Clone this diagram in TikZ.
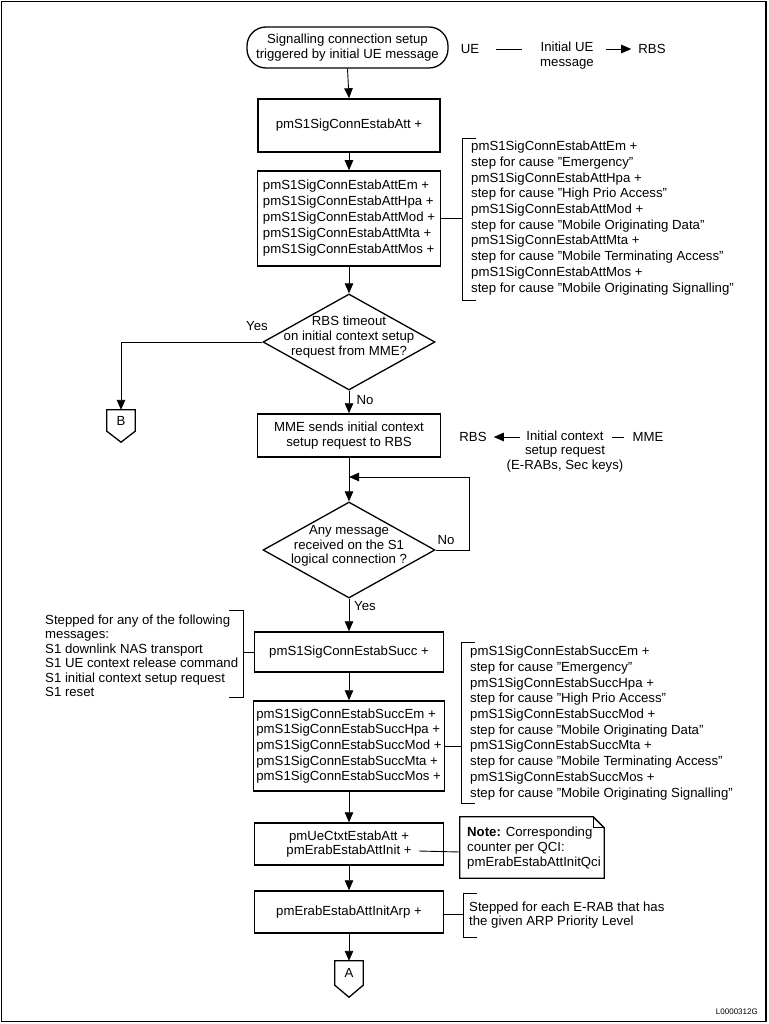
\documentclass[tikz,border=0pt]{standalone}
\usepackage{fontspec}
\setmainfont{Liberation Sans}
\usetikzlibrary{arrows.meta,shapes.geometric,calc}
\begin{document}
\begin{tikzpicture}[x=1pt,y=-1pt, font=\fontsize{13.2}{15.7}\selectfont,
  box/.style={draw, line width=1.5pt, inner sep=0pt, align=center},
  dia/.style={draw, diamond, line width=1.3pt, inner sep=0pt, minimum width=172pt, minimum height=96pt},
  con/.style={line width=0.9pt},
  arr/.style={con, -{Triangle[length=10pt,width=8.5pt]}},
  txt/.style={inner sep=0pt, align=left},
  ctxt/.style={inner sep=0pt, align=center, font=\fontsize{13.2}{14.4}\selectfont},
  offpage/.style={inner sep=0pt, minimum width=28pt},
]
\useasboundingbox (0,0) rectangle (768,1024);
\draw[line width=1.3pt] (1.5,1.5) rectangle (766,1021.5);

% start terminal
\node[box, line width=1.3pt, rounded corners=19pt, minimum width=201pt, minimum height=41pt, font=\fontsize{13.2}{14.2}\selectfont] (start) at (347.5,47.5) {Signalling connection setup\\triggered by initial UE message};

% UE -> RBS message
\node[ctxt] (ue) at (470,49) {UE};
\node[ctxt] (ini) at (567,55.5) {Initial UE\\message};
\node[ctxt] (rbs1) at (652,49) {RBS};
\draw[con] ([xshift=17pt]ue.east) -- ([xshift=-18pt]ini.west |- ue.east);
\draw[arr] ([xshift=12pt]ini.east |- rbs1.west) -- ([xshift=-7pt]rbs1.west);

% box 1
\node[box, minimum width=182pt, minimum height=53pt] (b1) at (349,125.5) {pmS1SigConnEstabAtt +};
% box 2
\node[box, minimum width=183pt, minimum height=95pt, align=left, font=\fontsize{13.2}{16}\selectfont] (b2) at (349,218.5) {pmS1SigConnEstabAttEm +\\pmS1SigConnEstabAttHpa +\\pmS1SigConnEstabAttMod +\\pmS1SigConnEstabAttMta +\\pmS1SigConnEstabAttMos +};
% bracket 1
\node[txt, anchor=west] (br1t) at (471,218) {pmS1SigConnEstabAttEm +\\step for cause ”Emergency”\\pmS1SigConnEstabAttHpa +\\step for cause ”High Prio Access”\\pmS1SigConnEstabAttMod +\\step for cause ”Mobile Originating Data”\\pmS1SigConnEstabAttMta +\\step for cause ”Mobile Terminating Access”\\pmS1SigConnEstabAttMos +\\step for cause ”Mobile Originating Signalling”};
\coordinate (br1) at (462,218);
\draw[con] (476,138) -- (462,138) -- (462,300) -- (476,300);
\draw[con] (b2.east |- br1) -- (br1);

% decision 1
\node[dia] (d1) at (349,342) {};
\node[ctxt, font=\fontsize{13.2}{15}\selectfont] (d1t) at (349,337) {RBS timeout\\on initial context setup\\request from MME?};
\node[ctxt] (yes1) at (257,326) {Yes};
\node[ctxt] (no1) at (365,400) {No};

% off-page B
\node[offpage, minimum height=21pt] (B) at (121,420.5) {B};
\draw[line width=1.3pt] (B.north west) -- (B.north east) -- (B.south east) -- ($(B.south)+(0,11)$) -- (B.south west) -- cycle;
\draw[arr] (d1.west) -| (B.north);

% box 3
\node[box, minimum width=183pt, minimum height=43pt, font=\fontsize{13.2}{15}\selectfont] (b3) at (349,435.5) {MME sends initial context\\setup request to RBS};
\node[ctxt] (rbs2) at (473,437) {RBS};
\node[ctxt] (icr) at (565,451.5) {Initial context\\setup request\\(E-RABs, Sec keys)};
\node[ctxt] (mme) at (648,437) {MME};
\draw[arr] ([xshift=33pt]rbs2.east) -- ([xshift=7pt]rbs2.east);
\draw[con] ([xshift=-20pt]mme.west) -- ([xshift=-8pt]mme.west);

% decision 2
\node[dia] (d2) at (349,550) {};
\node[ctxt] (d2t) at (349,546) {Any message\\received on the S1\\logical connection ?};
\node[ctxt] (no2) at (446,540) {No};
\node[ctxt] (yes2) at (365,606) {Yes};
\coordinate (loop) at (469,477);
\draw[arr] (d2.east) -| (loop) -- (loop -| b3.south);

% box 4
\node[box, minimum width=189pt, minimum height=40pt] (b4) at (349,652) {pmS1SigConnEstabSucc +};
\node[txt, anchor=west, font=\fontsize{13.2}{14.5}\selectfont] (lt) at (45,656) {Stepped for any of the following\\messages:\\S1 downlink NAS transport\\S1 UE context release command\\S1 initial context setup request\\S1 reset};
\coordinate (brl) at (243,652);
\draw[con] (229,610) -- (243,610) -- (243,697) -- (229,697);
\draw[con] (brl) -- (b4.west);

% box 5
\node[box, minimum width=191pt, minimum height=90pt, align=left] (b5) at (349,746) {pmS1SigConnEstabSuccEm +\\pmS1SigConnEstabSuccHpa +\\pmS1SigConnEstabSuccMod +\\pmS1SigConnEstabSuccMta +\\pmS1SigConnEstabSuccMos +};
\node[txt, anchor=west] (br2t) at (470,723) {pmS1SigConnEstabSuccEm +\\step for cause ”Emergency”\\pmS1SigConnEstabSuccHpa +\\step for cause ”High Prio Access”\\pmS1SigConnEstabSuccMod +\\step for cause ”Mobile Originating Data”\\pmS1SigConnEstabSuccMta +\\step for cause ”Mobile Terminating Access”\\pmS1SigConnEstabSuccMos +\\step for cause ”Mobile Originating Signalling”};
\coordinate (br2) at (461,746);
\draw[con] (475,642) -- (461,642) -- (461,803) -- (475,803);
\draw[con] (b5.east) -- (br2);

% box 6 and note
\node[box, minimum width=189pt, minimum height=42pt, font=\fontsize{13.2}{14.4}\selectfont] (b6) at (349,844) {pmUeCtxtEstabAtt +\\pmErabEstabAttInit +};
\node[inner sep=0pt, minimum width=144pt, minimum height=61pt] (note) at (532,847.5) {};
\draw[line width=1.3pt] (note.north west) -- ($(note.north east)+(-11,0)$) -- ($(note.north east)+(0,11)$) -- (note.south east) -- (note.south west) -- cycle;
\draw[con] ($(note.north east)+(-11,0)$) -- ($(note.north east)+(-11,11)$) -- ($(note.north east)+(0,11)$);
\node[txt, anchor=west, font=\fontsize{13.2}{15}\selectfont] (notet) at (467,848) {\textbf{Note:} Corresponding\\counter per QCI:\\pmErabEstabAttInitQci};
\coordinate (nl) at (419,851);
\draw[con] (nl) -- ([yshift=-4.5pt]note.west);

% box 7
\node[box, minimum width=189pt, minimum height=42pt] (b7) at (349,912) {pmErabEstabAttInitArp +};
\node[txt, anchor=west, font=\fontsize{13.2}{14.4}\selectfont] (br3t) at (469,915) {Stepped for each E-RAB that has\\the given ARP Priority Level};
\coordinate (br3) at (463,914);
\draw[con] (477,893) -- (463,893) -- (463,937) -- (477,937);
\draw[con] (b7.east |- br3) -- (br3);

% off-page A
\node[offpage, minimum height=24pt] (A) at (349,973) {A};
\draw[line width=1.3pt] (A.north west) -- (A.north east) -- (A.south east) -- ($(A.south)+(0,12)$) -- (A.south west) -- cycle;

% main flow
\draw[arr] (start.south) -- (b1.north);
\draw[arr] (b1.south) -- (b2.north);
\draw[arr] (b2.south) -- (d1.north);
\draw[arr] (d1.south) -- (b3.north);
\draw[arr] (b3.south) -- (d2.north);
\draw[arr] (d2.south) -- (b4.north);
\draw[arr] (b4.south) -- (b5.north);
\draw[arr] (b5.south) -- (b6.north);
\draw[arr] (b6.south) -- (b7.north);
\draw[arr] (b7.south) -- (A.north);

\node[anchor=east, font=\fontsize{8}{9}\selectfont, inner sep=0pt] (lbl) at (758,1012) {L0000312G};
\end{tikzpicture}
\end{document}
